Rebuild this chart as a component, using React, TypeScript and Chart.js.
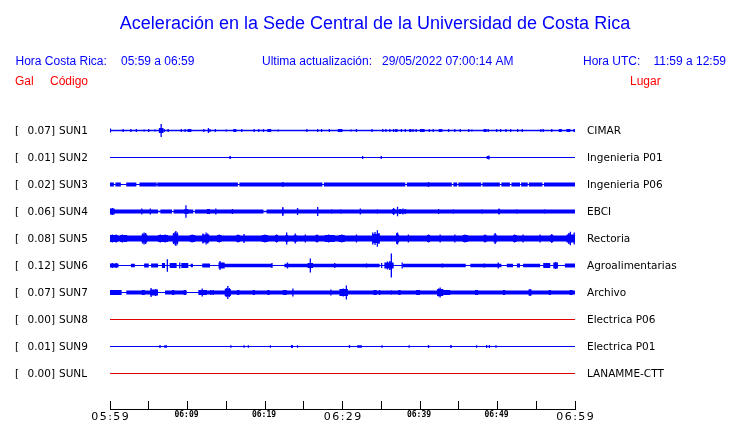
import { useEffect, useRef } from 'react';
import { Chart, registerables } from 'chart.js';

Chart.register(...registerables);

// ---------- data ----------
const titleText = 'Aceleración en la Sede Central de la Universidad de Costa Rica';
const crTimeLabel = 'Hora Costa Rica:';
const crTimeRange = '05:59 a 06:59';
const updateLabel = 'Ultima actualización:';
const updateValue = '29/05/2022 07:00:14 AM';
const utcLabel = 'Hora UTC:';
const utcRange = '11:59 a 12:59';
const galHeader = 'Gal';
const codeHeader = 'Código';
const placeHeader = 'Lugar';

const codes = ['SUN1', 'SUN2', 'SUN3', 'SUN4', 'SUN5', 'SUN6', 'SUN7', 'SUN8', 'SUN9', 'SUNL'];
const galMax = ['0.07', '0.01', '0.02', '0.06', '0.08', '0.12', '0.07', '0.00', '0.01', '0.00'];
const places = ['CIMAR', 'Ingenieria P01', 'Ingenieria P06', 'EBCI', 'Rectoria', 'Agroalimentarias', 'Archivo', 'Electrica P06', 'Electrica P01', 'LANAMME-CTT'];

// time axis in minutes after 05:59
const xTickMinutes = [0, 10, 20, 30, 40, 50, 60];
const xTickLabels = ['05:59', '06:09', '06:19', '06:29', '06:39', '06:49', '06:59'];
const xMajorMinutes = [0, 30, 60];
const xMinorStep = 5;

// envelope of each record: base half-amplitude, segments [start, end, amp], spikes [time, amp]
type Seg = [number, number, number];
type Spike = [number, number];

const sun1Base = 0.25;
const sun1Segs: Seg[] = [[6.3, 6.9, 2], [10.0, 10.5, 1], [15.9, 16.3, 1], [20.3, 20.8, 1], [29.4, 30.0, 1], [36.8, 37.1, 1], [38.6, 38.9, 1], [40.0, 40.6, 1], [42.4, 42.7, 1], [48.2, 48.6, 1], [57.9, 58.3, 1], [58.9, 59.4, 1], [59.8, 60, 1]];
const sun1Spikes: Spike[] = [[0.05, 1.5], [1.7, 1], [2.7, 1], [3.4, 1], [4.4, 0.5], [5.0, 1], [5.8, 0.5], [6.6, 6], [7.0, 1], [7.5, 1], [9.2, 1], [9.7, 1], [12.1, 1], [12.7, 2], [12.9, 1], [13.6, 1], [15.0, 0.5], [17.0, 1], [18.6, 1], [19.2, 1], [19.8, 1], [21.7, 0.5], [25.4, 1], [26.8, 1], [27.3, 1], [28.3, 1], [31.1, 0.5], [31.8, 1], [33.8, 1], [35.2, 1], [35.6, 1], [36.1, 1], [36.6, 1], [37.6, 1], [38.1, 1], [39.1, 1], [39.5, 1], [41.2, 1], [41.7, 1], [42.8, 1], [43.7, 1], [44.5, 1], [45.2, 1], [46.3, 1], [46.7, 0.5], [48.8, 1], [49.9, 1], [50.4, 1], [51.1, 1], [51.7, 1], [52.6, 1], [53.2, 1], [55.6, 1], [55.9, 1], [57.0, 1]];

const sun2Base = 0;
const sun2Segs: Seg[] = [[15.4, 15.6, 1], [48.6, 48.9, 1]];
const sun2Spikes: Spike[] = [[32.6, 1], [35.0, 1], [48.9, 1.5]];

const sun3Base = 1.5;
const sun3Segs: Seg[] = [[0.5, 0.7, 0], [1.4, 2.1, 0], [3.4, 3.8, 0], [5.9, 6.1, 0], [16.5, 16.7, 0], [27.4, 27.6, 0], [38.1, 38.3, 0], [44.1, 44.3, 0], [44.8, 44.95, 0], [47.9, 48.05, 0], [50.3, 50.5, 0], [51.6, 51.8, 0], [52.9, 53.05, 0], [53.9, 54.05, 0], [55.8, 56.0, 0]];
const sun3Spikes: Spike[] = [[5.95, 1.5], [22.3, 2], [41.1, 2]];

const sun4Base = 1.5;
const sun4Segs: Seg[] = [[0, 0.6, 2.5], [6.2, 6.5, 0.3], [8.0, 8.2, 0], [9.6, 10.1, 2], [10.75, 10.95, 0], [12.5, 12.9, 2], [19.8, 20.2, 0.3], [22.2, 22.4, 2.5], [36.4, 36.8, 2], [37.3, 37.6, 2], [38.0, 38.2, 2], [50.1, 50.3, 2]];
const sun4Spikes: Spike[] = [[0.3, 3], [4.1, 2.5], [5.2, 2.5], [9.8, 5.8], [13.65, 2.5], [15.8, 2], [22.3, 4], [24.2, 3], [26.8, 4], [28.6, 1.5], [29.8, 1.5], [32.3, 2.5], [34.5, 1.5], [36.6, 3], [37.1, 4.2], [37.8, 2.5], [42.4, 2], [44.3, 1.5], [48.0, 1.5], [50.2, 2.5], [52.5, 1.5], [56.1, 1.5]];

const sun5Base = 2.5;
const sun5Segs: Seg[] = [[0, 1.0, 3], [1.3, 2.2, 3], [4.1, 4.8, 3.5], [6.2, 7.5, 3], [8.1, 8.8, 4], [10.3, 11.0, 3], [11.9, 12.8, 3.5], [13.8, 14.4, 3], [16.3, 16.8, 3], [19.6, 20.4, 3], [21.3, 21.7, 3], [22.6, 23.0, 3], [23.7, 24.1, 3], [26.5, 26.9, 3], [27.7, 29.0, 3], [29.5, 30.3, 3], [33.9, 34.8, 4], [36.9, 37.3, 3.5], [40.9, 41.3, 3], [45.5, 46.2, 3], [48.2, 48.6, 3], [49.5, 49.9, 3.5], [52.0, 52.5, 3], [56.8, 57.2, 3], [58.9, 60, 3.5]];
const sun5Spikes: Spike[] = [[0.3, 3.5], [0.8, 3.5], [1.6, 3.5], [4.2, 4.5], [4.4, 5.5], [4.6, 5], [6.5, 3.5], [7.1, 3.5], [8.2, 5], [8.4, 6], [8.5, 7], [8.7, 5.5], [10.6, 3.5], [12.0, 4.5], [12.4, 5.5], [12.6, 4.5], [14.1, 3.5], [16.5, 3.5], [17.3, 4], [20.0, 3.5], [21.5, 3.5], [22.8, 5.5], [23.9, 4.5], [25.2, 3.5], [26.7, 3.5], [28.2, 3.5], [29.9, 3.5], [31.8, 3.5], [33.9, 5.5], [34.2, 6], [34.5, 7.8], [34.7, 5], [37.0, 5], [37.1, 5.5], [38.5, 3.5], [41.1, 3.5], [42.6, 3.5], [44.5, 3.5], [45.8, 3.5], [48.4, 3.5], [49.7, 5], [52.2, 3.5], [53.3, 3.5], [55.5, 3.5], [57.0, 4], [59.2, 5], [59.4, 6.2], [59.9, 5.5]];

const sun6Base = 0;
const sun6Segs: Seg[] = [[0, 1.1, 1.5], [2.7, 3.2, 1.2], [4.4, 5.0, 1.5], [5.3, 6.2, 1.5], [6.7, 7.1, 2], [7.7, 8.6, 2], [9.2, 10.1, 2], [10.4, 10.7, 1.2], [11.9, 12.9, 1.5], [14.0, 14.8, 2.5], [14.8, 20.9, 1.2], [22.5, 25.5, 1.2], [25.5, 26.2, 2], [26.2, 34.8, 1.2], [35.4, 36.6, 2.5], [37.8, 45.9, 1.2], [46.5, 50.5, 1.2], [51.2, 52.0, 1.2], [52.5, 52.9, 1.5], [53.3, 55.5, 1.2], [55.9, 56.8, 2], [57.2, 57.8, 2.5], [58.7, 60, 1.5]];
const sun6Spikes: Spike[] = [[0.3, 2], [0.8, 2], [7.4, 5.8], [9.0, 2.5], [14.2, 4], [20.9, 2], [22.9, 2.5], [25.85, 6.5], [29.0, 2], [33.1, 1.5], [35.05, 2], [35.8, 3.5], [36.1, 4], [36.3, 11.5], [37.7, 2.5], [42.9, 1.5], [48.3, 1.5], [50.1, 2.5], [57.5, 3]];

const sun7Base = 1.5;
const sun7Segs: Seg[] = [[0, 1.5, 2], [1.5, 2.1, 0], [4.1, 4.5, 2], [5.2, 6.2, 2.5], [6.2, 7.1, 0], [8.0, 8.3, 2], [9.5, 9.8, 2], [9.9, 11.4, 0], [11.4, 12.5, 2], [14.8, 15.6, 3], [16.4, 16.7, 2], [18.4, 18.7, 2], [20.3, 20.6, 2], [22.3, 22.8, 2], [24.7, 25.2, 1.5], [27.3, 27.7, 1.5], [29.6, 30.7, 3], [34.0, 34.4, 2], [37.2, 37.5, 2], [39.5, 40.0, 2], [42.2, 43.0, 3], [43.0, 43.9, 2], [45.5, 45.8, 1.5], [47.1, 47.5, 2], [50.7, 51.0, 2], [52.7, 53.0, 1.5], [54.0, 54.4, 2.5], [55.4, 55.7, 1.5], [56.6, 56.9, 2], [59.3, 59.7, 2]];
const sun7Spikes: Spike[] = [[0.4, 2], [1.0, 2], [5.3, 4], [5.9, 3], [11.9, 3.5], [13.0, 2], [13.3, 2], [15.0, 4], [15.2, 6], [15.4, 4], [23.6, 3.5], [28.5, 2.5], [30.1, 3.5], [30.5, 6.5], [34.8, 2], [36.3, 1.5], [42.4, 3.5], [42.6, 4.5], [54.2, 3]];

const sun8Base = 0;
const sun8Segs: Seg[] = [];
const sun8Spikes: Spike[] = [];

const sun9Base = 0;
const sun9Segs: Seg[] = [[7.0, 7.35, 0.7], [23.35, 23.6, 1], [31.9, 32.5, 0.7], [43.9, 44.1, 1]];
const sun9Spikes: Spike[] = [[6.45, 1], [15.6, 0.7], [17.3, 0.7], [17.85, 0.7], [20.7, 0.7], [24.2, 0.7], [30.9, 1], [35.1, 0.7], [38.6, 0.7], [41.1, 1], [47.3, 0.7], [48.6, 1], [48.95, 1], [49.8, 0.7]];

const sunLBase = 0;
const sunLSegs: Seg[] = [];
const sunLSpikes: Spike[] = [];

const traceBases = [sun1Base, sun2Base, sun3Base, sun4Base, sun5Base, sun6Base, sun7Base, sun8Base, sun9Base, sunLBase];
const traceSegs = [sun1Segs, sun2Segs, sun3Segs, sun4Segs, sun5Segs, sun6Segs, sun7Segs, sun8Segs, sun9Segs, sunLSegs];
const traceSpikes = [sun1Spikes, sun2Spikes, sun3Spikes, sun4Spikes, sun5Spikes, sun6Spikes, sun7Spikes, sun8Spikes, sun9Spikes, sunLSpikes];

// ---------- style ----------
const BLUE = '#0000ff';
const RED = '#e00000';
const traceColors = [BLUE, BLUE, BLUE, BLUE, BLUE, BLUE, BLUE, RED, BLUE, RED];
const T_MIN = 0;
const T_MAX = 60;
const ROW_PX = 27; // amplitudes are expressed in 1/27 of the trace spacing

function stepEnvelope(base: number, segs: Seg[]): [number, number][] {
  const set = new Set<number>([T_MIN, T_MAX]);
  segs.forEach(([s, e]) => { set.add(s); set.add(e); });
  const xs = [...set].sort((a, b) => a - b);
  const out: [number, number][] = [];
  for (let i = 0; i < xs.length - 1; i++) {
    const m = (xs[i] + xs[i + 1]) / 2;
    let v: number | null = null;
    segs.forEach(([s, e, a]) => {
      if (m >= s && m < e) v = v === null ? a : Math.max(v, a);
    });
    const val = v === null ? base : v;
    out.push([xs[i], val]);
    out.push([xs[i + 1], val]);
  }
  return out;
}

function buildDatasets() {
  const ds: any[] = [];
  codes.forEach((_, i) => {
    const off = -i;
    const env = stepEnvelope(traceBases[i], traceSegs[i]);
    const color = traceColors[i];
    ds.push({
      data: env.map(([t, a]) => ({ x: t, y: off + (a + 0.5) / ROW_PX })),
      borderWidth: 0, pointRadius: 0, fill: false, borderColor: color, backgroundColor: color,
    });
    ds.push({
      data: env.map(([t, a]) => ({ x: t, y: off - (a + 0.5) / ROW_PX })),
      borderWidth: 0, pointRadius: 0, fill: '-1', borderColor: color, backgroundColor: color,
    });
    const sp: any[] = [];
    traceSpikes[i].forEach(([t, a]) => {
      sp.push({ x: t, y: off - (a + 0.5) / ROW_PX });
      sp.push({ x: t, y: off + (a + 0.5) / ROW_PX });
      sp.push({ x: t, y: null });
    });
    ds.push({ data: sp, borderWidth: 1.3, pointRadius: 0, fill: false, borderColor: color, spanGaps: false });
  });
  return ds;
}

const textPlugin = {
  id: 'seismoText',
  afterDraw(chart: any) {
    const { ctx, scales, chartArea } = chart;
    const xs = scales.x;
    const ys = scales.y;
    ctx.save();
    ctx.textBaseline = 'alphabetic';

    // title
    ctx.fillStyle = BLUE;
    ctx.font = '18px "Liberation Sans"';
    ctx.textAlign = 'center';
    ctx.fillText(titleText, 375, 29);

    // header line
    ctx.font = '12px "Liberation Sans"';
    ctx.textAlign = 'left';
    ctx.fillText(crTimeLabel, 15.5, 65);
    ctx.fillText(crTimeRange, 121, 65);
    ctx.fillText(updateLabel, 262, 65);
    ctx.fillText(updateValue, 382, 65);
    ctx.fillText(utcLabel, 583, 65);
    ctx.fillText(utcRange, 653.5, 65);

    ctx.fillStyle = 'red';
    ctx.fillText(galHeader, 15, 85);
    ctx.fillText(codeHeader, 50, 85);
    ctx.fillText(placeHeader, 630, 85);

    // row labels
    ctx.fillStyle = '#000';
    ctx.font = '10.5px "DejaVu Sans"';
    codes.forEach((c, i) => {
      const py = ys.getPixelForValue(-i) + 3.8;
      ctx.fillText('[', 15, py);
      ctx.fillText(galMax[i] + ']', 27.5, py);
      ctx.fillText(c, 59, py);
      ctx.fillText(places[i], 587, py);
    });

    // time axis
    const yb = chartArea.bottom;
    ctx.strokeStyle = '#000';
    ctx.lineWidth = 1;
    ctx.beginPath();
    ctx.moveTo(xs.getPixelForValue(T_MIN), yb);
    ctx.lineTo(xs.getPixelForValue(T_MAX) + 1, yb);
    for (let t = T_MIN; t <= T_MAX; t += xMinorStep) {
      const px = Math.floor(xs.getPixelForValue(t)) + 0.5;
      ctx.moveTo(px, yb);
      ctx.lineTo(px, yb - 8.5);
    }
    ctx.stroke();

    ctx.textAlign = 'center';
    xTickMinutes.forEach((t, k) => {
      const px = xs.getPixelForValue(t);
      if (xMajorMinutes.includes(t)) {
        ctx.font = '11px "DejaVu Sans"';
        (ctx as any).letterSpacing = '1.4px';
        ctx.fillText(xTickLabels[k], px + 0.7, 420);
        (ctx as any).letterSpacing = '0px';
      } else {
        ctx.font = 'bold 8px "DejaVu Sans Mono"';
        ctx.fillText(xTickLabels[k], px - 1, 417);
      }
    });
    ctx.restore();
  },
};

export default function App() {
  const ref = useRef<HTMLCanvasElement>(null);
  useEffect(() => {
    if (!ref.current) return;
    const chart = new Chart(ref.current, {
      type: 'line',
      data: { datasets: buildDatasets() },
      options: {
        responsive: false,
        animation: false,
        devicePixelRatio: 1,
        events: [],
        layout: { padding: { left: 110, right: 165, top: 117, bottom: 13.5 } },
        scales: {
          x: { type: 'linear', min: T_MIN, max: T_MAX, display: false },
          y: { type: 'linear', min: 0.5 - 292.5 / ROW_PX, max: 0.5, display: false },
        },
        plugins: { legend: { display: false }, tooltip: { enabled: false }, title: { display: false } },
        elements: { point: { radius: 0 }, line: { tension: 0 } },
      },
      plugins: [textPlugin],
    } as any);
    return () => chart.destroy();
  }, []);
  return (
    <div style={{ position: 'fixed', left: 0, top: 0, width: 740, height: 423, background: '#fff' }}>
      <canvas ref={ref} width={740} height={423} style={{ display: 'block' }} />
    </div>
  );
}
